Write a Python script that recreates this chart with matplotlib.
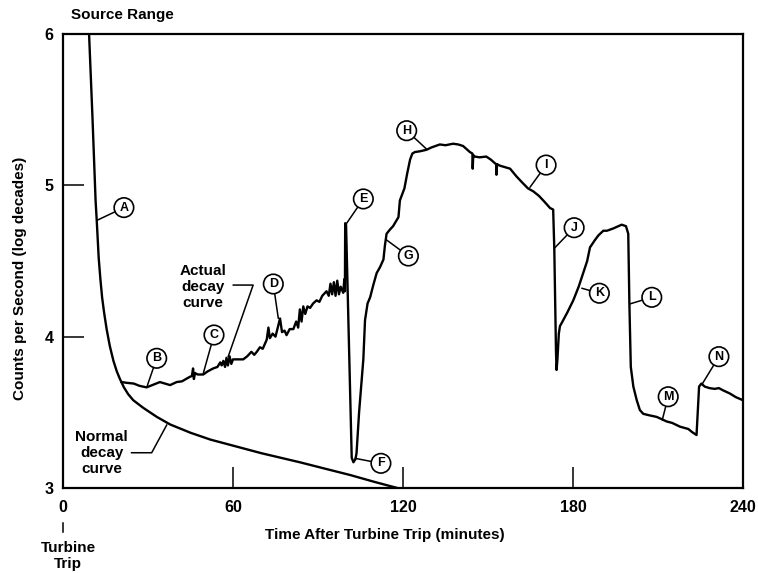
import matplotlib
matplotlib.use("Agg")
import matplotlib.pyplot as plt
from matplotlib.lines import Line2D

plt.rcParams['font.family'] = ['Liberation Sans', 'DejaVu Sans']
plt.rcParams['font.weight'] = 'bold'

# ---- data ----
normal_t = [9.2, 10.4, 11.5, 11.9, 12.6, 13.2, 13.8, 14.5, 15.4, 16.5, 17.8, 19.0,
            20.1, 21.5, 23.0, 24.8, 28.3, 33.1, 37.8, 45.0, 52.0, 60.0, 70.0,
            83.6, 92.0, 101.3, 110.0, 118.0]
normal_v = [6.0, 5.45, 4.90, 4.77, 4.52, 4.38, 4.26, 4.16, 4.05, 3.94, 3.84, 3.77,
            3.72, 3.665, 3.62, 3.58, 3.53, 3.47, 3.42, 3.365, 3.32, 3.28, 3.23,
            3.17, 3.13, 3.086, 3.04, 3.0]

actual_t = [20.7, 22.5, 25, 27, 29.5, 31.5, 34.2, 36, 37.8, 40.1, 42, 44.8, 45.5,
            45.9, 46.2, 46.6, 47.5, 49.5, 51, 53, 54.5, 55.5, 56.0, 56.6, 57.2,
            57.7, 58.2, 58.8, 59.4, 60.0, 61.5, 63.6, 65, 66.5, 67.5, 68.4, 69.5,
            70.5, 71.9, 72.5, 73, 74, 75, 75.8, 76.6, 77.3, 78.2, 78.9, 80, 81.3,
            82.3, 83, 83.6, 84.2, 84.8, 85.5, 86.3, 87.2, 88.3, 89.5, 90.5, 91.5,
            93, 93.8, 94.4, 95.0, 95.6, 96.2, 96.8, 97.4, 98.0, 98.9, 99.3, 99.5,
            99.6, 99.9, 101.9, 102.5, 103.2, 103.6, 104.5, 106, 106.6, 107.5,
            108.4, 109.5, 110.7, 111.9, 113.1, 113.6, 114.2, 115.5, 116.5, 118.4,
            118.9, 120.5, 121.5, 122.5, 123.3, 124.2, 126, 128.3, 130, 133, 135,
            137.7, 139.5, 141.2, 143.6, 144.5, 144.6, 144.8, 145.4, 147, 149.4,
            151, 152.5, 152.9, 153, 153.2, 154.2, 156, 157.8, 160, 162, 164.1,
            166, 168, 170, 171.9, 173.0, 173.4, 174.0, 174.2, 174.5, 175.0, 175.4,
            176, 178, 180.1, 182, 183.6, 185, 186, 187.8, 189, 190.7, 192, 194.2,
            196, 197.2, 198.7, 199.5, 199.9, 200.4, 201.3, 202.5, 203.6, 204.8,
            207, 209.5, 211.3, 213, 215, 217.8, 220.7, 222, 223.6, 224.5, 225.3,
            226.5, 228.2, 230, 231.5, 233, 235.3, 237.5, 240]
actual_v = [3.70, 3.695, 3.69, 3.675, 3.665, 3.68, 3.70, 3.69, 3.68, 3.70, 3.705,
            3.735, 3.74, 3.79, 3.72, 3.76, 3.75, 3.75, 3.77, 3.79, 3.80, 3.83,
            3.81, 3.84, 3.80, 3.86, 3.81, 3.87, 3.82, 3.85, 3.85, 3.85, 3.87, 3.90,
            3.88, 3.90, 3.93, 3.92, 3.98, 4.06, 3.99, 4.02, 4.00, 4.06, 4.12, 4.03,
            4.04, 4.01, 4.05, 4.05, 4.10, 4.06, 4.18, 4.10, 4.20, 4.15, 4.20, 4.19,
            4.22, 4.24, 4.23, 4.27, 4.30, 4.27, 4.35, 4.28, 4.36, 4.27, 4.37, 4.28,
            4.33, 4.29, 4.38, 4.30, 4.75, 4.74, 3.20, 3.17, 3.19, 3.23, 3.50, 3.85,
            4.11, 4.22, 4.26, 4.34, 4.42, 4.46, 4.51, 4.60, 4.68, 4.71, 4.73, 4.79,
            4.90, 4.98, 5.08, 5.17, 5.21, 5.22, 5.225, 5.235, 5.25, 5.27, 5.265,
            5.275, 5.27, 5.26, 5.22, 5.21, 5.11, 5.20, 5.19, 5.185, 5.19, 5.17,
            5.145, 5.14, 5.07, 5.14, 5.13, 5.12, 5.11, 5.06, 5.02, 4.98, 4.96,
            4.93, 4.89, 4.85, 4.84, 4.58, 3.90, 3.78, 3.85, 4.02, 4.07, 4.09, 4.16,
            4.24, 4.33, 4.42, 4.50, 4.59, 4.64, 4.67, 4.70, 4.70, 4.715, 4.73,
            4.74, 4.73, 4.68, 4.22, 3.80, 3.67, 3.58, 3.515, 3.49, 3.48, 3.47,
            3.455, 3.44, 3.43, 3.405, 3.39, 3.37, 3.35, 3.67, 3.69, 3.67, 3.66,
            3.655, 3.66, 3.645, 3.625, 3.60, 3.58]

x_ticks = [0, 60, 120, 180, 240]
y_ticks = [3, 4, 5, 6]

markers = ['A', 'B', 'C', 'D', 'E', 'F', 'G', 'H', 'I', 'J', 'K', 'L', 'M', 'N']
marker_xy = [(21.5, 4.853), (33.07, 3.857), (53.29, 4.011), (74.22, 4.348),
             (106.0, 4.910), (112.2, 3.163), (121.9, 4.533), (121.3, 5.361),
             (170.5, 5.134), (180.4, 4.720), (189.3, 4.287), (207.8, 4.260),
             (213.6, 3.603), (231.5, 3.868)]
marker_pt = [(12.25, 4.771), (29.75, 3.676), (49.52, 3.758), (75.99, 4.121),
             (100.1, 4.749), (103.1, 3.196), (114.2, 4.639), (128.4, 5.238),
             (164.8, 4.987), (173.4, 4.584), (183.1, 4.320), (200.0, 4.216),
             (211.5, 3.449), (225.6, 3.687)]

actual_label_xy = (49.5, 4.328)
actual_leader_t = [60.1, 67.1, 58.3]
actual_leader_v = [4.341, 4.341, 3.868]
normal_label_xy = (13.66, 3.231)
normal_leader_t = [24.2, 31.3, 36.6]
normal_leader_v = [3.233, 3.233, 3.416]

# ---- figure ----
fig = plt.figure(figsize=(7.58, 5.73), dpi=100)
ax = fig.add_axes([63/758, 85/573, 680/758, 454/573])
ax.set_xlim(0, 240)
ax.set_ylim(3, 6)

lw = 1.7
ax.plot(normal_t, normal_v, color='black', lw=lw, solid_joinstyle='round')
ax.plot(actual_t, actual_v, color='black', lw=lw, solid_joinstyle='round')

for s in ax.spines.values():
    s.set_linewidth(1.6)

ax.set_xticks(x_ticks)
ax.set_yticks(y_ticks)
ax.set_xticklabels([str(v) for v in x_ticks])
ax.set_yticklabels([str(v) for v in y_ticks])
ax.tick_params(axis='both', direction='in', length=15, width=1.1,
               labelsize=11.5, colors='black')
ax.tick_params(axis='x', pad=9)
ax.tick_params(axis='y', pad=7)

for lab, xy, pt in zip(markers, marker_xy, marker_pt):
    ax.annotate(lab, xy=pt, xytext=xy, textcoords='data', fontsize=9,
                fontweight='bold', ha='center', va='center',
                bbox=dict(boxstyle='circle,pad=0.3', fc='white', ec='black', lw=1.2),
                arrowprops=dict(arrowstyle='-', lw=1.1, color='black',
                                shrinkA=0, shrinkB=0))

ax.text(*actual_label_xy, 'Actual\ndecay\ncurve', ha='center', va='center',
        fontsize=11, linespacing=1.15)
ax.plot(actual_leader_t, actual_leader_v, color='black', lw=1.1)
ax.text(*normal_label_xy, 'Normal\ndecay\ncurve', ha='center', va='center',
        fontsize=11, linespacing=1.2)
ax.plot(normal_leader_t, normal_leader_v, color='black', lw=1.1)

ax.text(0.0868, 1.042, 'Source Range', transform=ax.transAxes, ha='center',
        va='center', fontsize=11)
ax.text(0.4735, -0.1035, 'Time After Turbine Trip (minutes)', transform=ax.transAxes,
        ha='center', va='center', fontsize=11)
ax.text(0.0074, -0.150, 'Turbine\nTrip', transform=ax.transAxes, ha='center',
        va='center', fontsize=11, linespacing=1.2)
ax.add_line(Line2D([0, 0], [-0.077, -0.097], color='black', lw=1.1,
                   transform=ax.get_xaxis_transform(), clip_on=False))
fig.text(20/758, 1 - 278/573, 'Counts per Second (log decades)', rotation=90,
         ha='center', va='center', fontsize=11)

fig.savefig('out.png', dpi=100)
